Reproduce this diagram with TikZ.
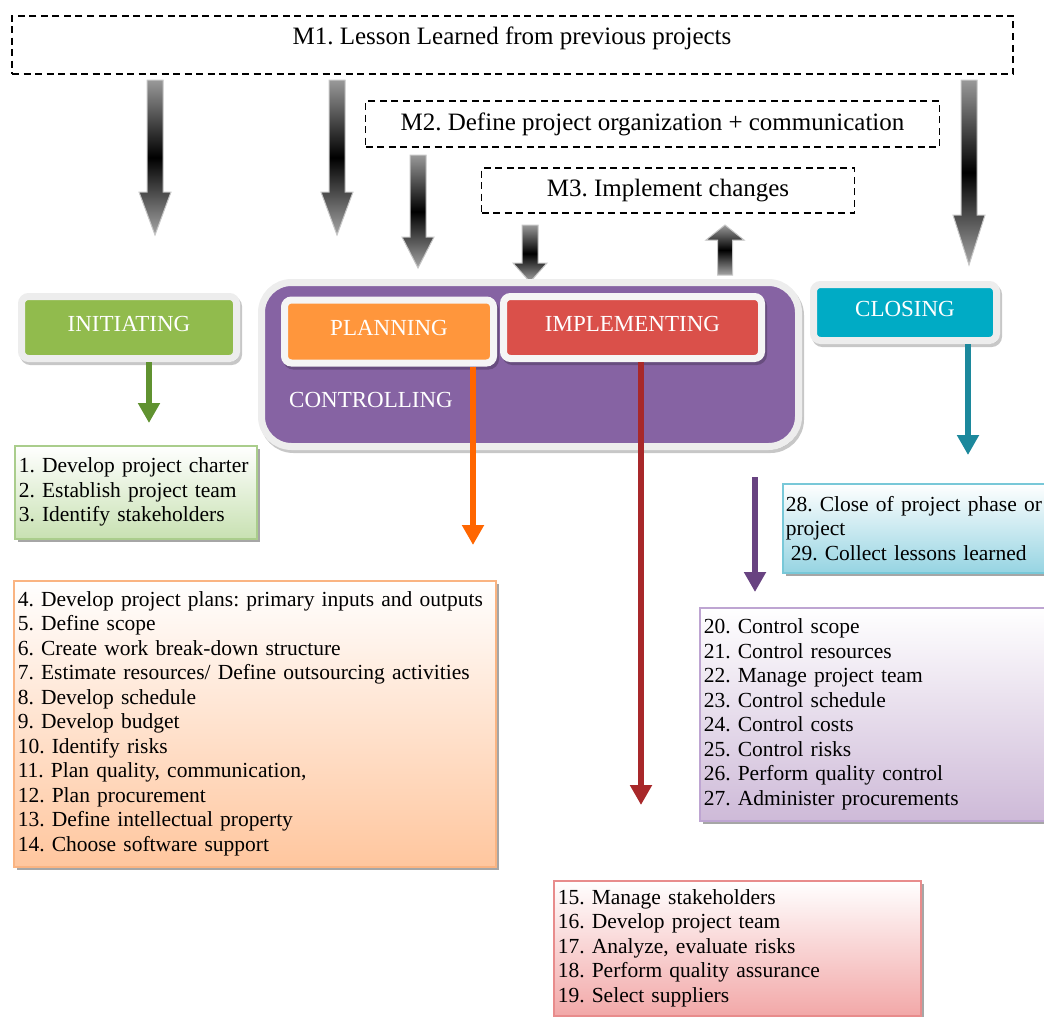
\documentclass[tikz,border=0pt]{standalone}
\usepackage{fontspec}
\setmainfont{Liberation Serif}
\usetikzlibrary{arrows.meta,calc}
\frenchspacing
\definecolor{cinit}{RGB}{145,187,77}
\definecolor{cplan}{RGB}{255,150,60}
\definecolor{cimpl}{RGB}{218,80,74}
\definecolor{cclose}{RGB}{0,171,197}
\definecolor{cctrl}{RGB}{134,99,163}
\definecolor{ainit}{RGB}{96,146,48}
\definecolor{aplan}{RGB}{255,102,0}
\definecolor{aimpl}{RGB}{168,40,42}
\definecolor{aclose}{RGB}{28,136,156}
\definecolor{actrl}{RGB}{104,67,129}
\definecolor{linit}{RGB}{200,225,178}
\definecolor{binit}{RGB}{170,205,140}
\definecolor{lplan}{RGB}{255,198,158}
\definecolor{bplan}{RGB}{250,180,130}
\definecolor{limpl}{RGB}{242,168,168}
\definecolor{bimpl}{RGB}{232,140,140}
\definecolor{lctrl}{RGB}{206,186,216}
\definecolor{bctrl}{RGB}{190,165,210}
\definecolor{lclose}{RGB}{150,212,226}
\definecolor{bclose}{RGB}{120,200,216}
\newcommand\shadearrow[5]{%
  \path[top color=gray!80, bottom color=gray!70, middle color=black,
        draw=gray!45, line width=1pt]
    let \p1=(#1), \p2=(#2) in
    (\x1-#3,\y1) -- (\x1+#3,\y1) -- (\x1+#3,{\y2+(#5)}) -- (\x1+#4,{\y2+(#5)})
    -- (\x2,\y2) -- (\x1-#4,{\y2+(#5)}) -- (\x1-#3,{\y2+(#5)}) -- cycle;}
\begin{document}
\begin{tikzpicture}[x=1pt,y=-1pt,
  dbox/.style={draw=black, line width=1.8pt, dash pattern=on 7pt off 4.5pt, inner sep=0pt},
  mtext/.style={font=\fontsize{25}{28}\selectfont, inner sep=0pt},
  phase/.style={draw=black!7, line width=7pt, rounded corners=7pt, text=white,
     font=\fontsize{23}{26}\selectfont, inner sep=0pt, text depth=8pt,
     preaction={draw=black, fill=black, opacity=0.22, line width=7pt,
       transform canvas={xshift=2pt,yshift=-3pt}}},
  lst/.style={anchor=north west, align=left, inner xsep=4pt, inner ysep=0pt,
     font=\fontsize{21.5}{24.5}\selectfont, line width=1.5pt,
     execute at begin node={\hyphenpenalty=10000 },
     preaction={fill=black!35, transform canvas={xshift=3pt,yshift=-3pt}}},
  carrow/.style={line width=6.5pt, -{Triangle[width=21pt,length=20pt]}}
  ]
\useasboundingbox (0,0) rectangle (1044,1017);
\clip (0,0) rectangle (1044,1017);

% dashed milestone boxes
\node[dbox, minimum width=1001pt, minimum height=58pt] (m1) at (512.5,45) {};
\node[mtext] (m1t) at (512,38) {M1. Lesson Learned from previous projects};
\node[dbox, mtext, minimum width=574pt, minimum height=46pt] (m2) at (652.5,124) {M2. Define project organization + communication};
\node[dbox, mtext, minimum width=373pt, minimum height=45pt] (m3) at (668,190.5) {M3. Implement changes};

% gray shaded arrows
\coordinate (g1s) at (155,80);  \coordinate (g1e) at (155,235);
\coordinate (g2s) at (337,80);  \coordinate (g2e) at (337,235);
\coordinate (g3s) at (418,155); \coordinate (g3e) at (418,268);
\coordinate (g4s) at (969,80);  \coordinate (g4e) at (969,265);
\coordinate (g5s) at (530,225); \coordinate (g5e) at (530,282);
\coordinate (g6s) at (725,275); \coordinate (g6e) at (725,225);
\shadearrow{g1s}{g1e}{8pt}{16pt}{43pt}
\shadearrow{g2s}{g2e}{8pt}{16pt}{43pt}
\shadearrow{g3s}{g3e}{8pt}{16pt}{31pt}
\shadearrow{g4s}{g4e}{8pt}{16pt}{50pt}
\shadearrow{g5s}{g5e}{8pt}{17pt}{19pt}
\shadearrow{g6s}{g6e}{7.5pt}{19pt}{-15pt}

% phase boxes
\node[phase, fill=cinit, minimum width=215pt, minimum height=62pt] (init) at (129,327.5) {INITIATING};
\node[phase, fill=cctrl, rounded corners=30pt, minimum width=537pt, minimum height=164pt] (ctrl) at (530,364.5) {};
\node[inner sep=0pt, text=white, font=\fontsize{23}{26}\selectfont] (ctrlt) at (371,400) {CONTROLLING};
\node[phase, draw=black!4, fill=cplan, minimum width=209pt, minimum height=63pt] (plan) at (389,331.5) {PLANNING};
\node[phase, draw=black!4, fill=cimpl, minimum width=258pt, minimum height=62pt] (impl) at (632.5,327.5) {IMPLEMENTING};
\node[phase, fill=cclose, minimum width=183pt, minimum height=56pt] (close) at (905,312.5) {CLOSING};

% lists
\node[lst, draw=binit, top color=white, bottom color=linit, text width=234pt, minimum height=93pt] (ilist) at (14,445)
 {1. Develop project charter\\2. Establish project team\\3. Identify stakeholders};
\node[lst, draw=bplan, top color=white, bottom color=lplan, text width=474pt, minimum height=286pt] (plist) at (13,580)
 {4. Develop project plans: primary inputs and outputs\\5. Define scope\\6. Create work break-down structure\\7. Estimate resources/ Define outsourcing activities\\8. Develop schedule\\9. Develop budget\\10. Identify risks\\11. Plan quality, communication,\\12. Plan procurement\\13. Define intellectual property\\14. Choose software support};
\node[lst, draw=bimpl, top color=white, bottom color=limpl, text width=359pt, minimum height=135pt] (rlist) at (553,880)
 {15. Manage stakeholders\\16. Develop project team\\17. Analyze, evaluate risks\\18. Perform quality assurance\\19. Select suppliers};
\node[lst, draw=bctrl, top color=white, bottom color=lctrl, text width=350pt, minimum height=213pt] (qlist) at (699,607)
 {20. Control scope\\21. Control resources\\22. Manage project team\\23. Control schedule\\24. Control costs\\25. Control risks\\26. Perform quality control\\27. Administer procurements};
\node[lst, draw=bclose, top color=white, bottom color=lclose, inner xsep=3pt, text width=280pt, minimum height=89pt] (tlist) at (782,483)
 {28. Close of project phase or\\project\\\hspace*{5pt}29. Collect lessons learned};

% colored connectors
\draw[carrow, draw=ainit, fill=ainit, shorten >=22pt] ([xshift=20pt]init.south) -- ([xshift=20pt]init.south |- ilist.north);
\draw[carrow, draw=aplan, fill=aplan, shorten >=35pt] ([xshift=84pt]plan.south) -- ([xshift=84pt]plan.south |- plist.north);
\draw[carrow, draw=aimpl, fill=aimpl, shorten >=75pt] ([xshift=8.5pt]impl.south) -- ([xshift=8.5pt]impl.south |- rlist.north);
\draw[carrow, draw=aclose, fill=aclose, shorten >=28pt] ([xshift=63pt]close.south) -- ([xshift=63pt]close.south |- tlist.north);
\draw[carrow, draw=actrl, fill=actrl, shorten <=27pt, shorten >=15pt] ([xshift=225pt]ctrl.south) -- ([xshift=225pt]ctrl.south |- qlist.north);
\end{tikzpicture}
\end{document}
